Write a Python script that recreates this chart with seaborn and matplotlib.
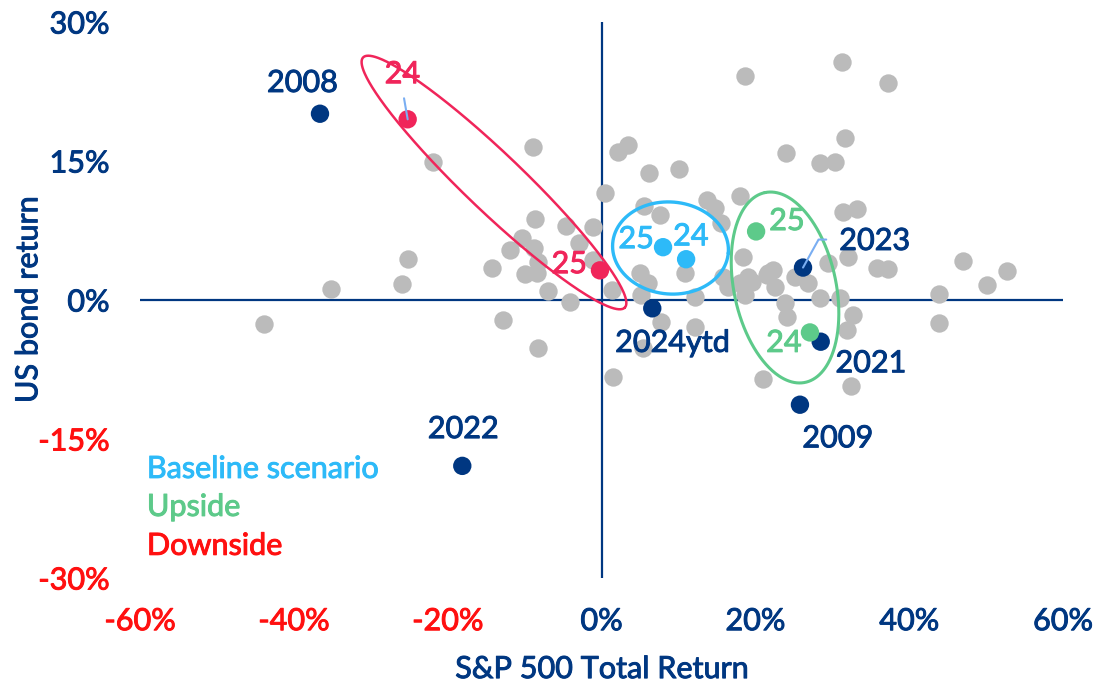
import matplotlib
matplotlib.use("Agg")
import matplotlib.pyplot as plt
import matplotlib.patheffects as pe
import seaborn as sns
import numpy as np
import pandas as pd

# ---------------- data ----------------
# Historical annual returns (grey dots): S&P 500 total return (%), US bond return (%)
hist_x = [-43.9, -35.2, -25.9, -25.2, -21.9, -14.2, -12.8, -8.3, -8.9, -8.6,
          -4.6, -1.1, -10.3, -2.9, -11.9, -8.8, -8.3, -9.9, -8.4, -1.1,
          -7.0, -4.1, 0.5, 1.4, 1.5, 2.1, 3.4, 6.2, 10.1, 5.5,
          7.6, 5.0, 6.0, 5.1, 7.7, 12.2, 5.4, 10.9, 12.2, 13.7,
          14.8, 15.6, 18.0, 15.8, 16.4, 18.4, 19.1, 19.6, 18.0, 18.7,
          21.7, 22.3, 21.5, 22.6, 23.9, 24.1, 25.2, 26.9, 28.4, 31.0,
          32.7, 31.9, 21.0, 32.4, 29.5, 32.1, 35.8, 37.3, 18.7, 31.3,
          37.3, 31.7, 24.0, 28.4, 30.4, 31.4, 33.2, 47.0, 50.1, 52.7,
          43.9, 43.9]
hist_y = [-2.6, 1.2, 1.7, 4.4, 14.9, 3.5, -2.2, -5.2, 16.5, 8.7,
          8.0, 7.9, 6.7, 6.1, 5.4, 5.6, 4.1, 2.8, 2.9, 4.3,
          1.0, -0.2, 11.5, 1.1, -8.3, 16.0, 16.7, 13.7, 14.1, 10.1,
          9.2, 2.9, 1.8, 0.5, -2.4, -2.9, -5.2, 2.9, 0.3, 10.8,
          9.9, 8.3, 11.2, 2.5, 1.4, 4.6, 2.5, 1.9, 1.8, 0.5,
          2.9, 3.2, 2.7, 1.4, -0.3, -1.8, 2.5, 1.8, 0.2, 0.2,
          -1.6, -3.2, -8.5, -9.3, 4.0, 4.6, 3.5, 3.3, 24.2, 25.7,
          23.4, 17.5, 15.9, 14.8, 14.9, 9.5, 9.8, 4.2, 1.6, 3.1,
          0.6, -2.5]

# Highlighted years (navy dots)
year_labels = ["2008", "2009", "2021", "2022", "2023", "2024ytd"]
year_x = [-36.6, 25.8, 28.5, -18.1, 26.2, 6.6]
year_y = [20.1, -11.3, -4.5, -17.9, 3.5, -0.9]

# Scenario forecasts: first value = 2024, second = 2025
scen_years = ["24", "25"]
base_x = [11.0, 8.0]
base_y = [4.4, 5.7]
up_x = [27.1, 20.1]
up_y = [-3.5, 7.4]
down_x = [-25.2, -0.2]
down_y = [19.5, 3.2]

scenario_names = ["Baseline scenario", "Upside", "Downside"]

x_ticks = [-60, -40, -20, 0, 20, 40, 60]
y_ticks = [-30, -15, 0, 15, 30]

# ---------------- style ----------------
NAVY = "#003781"
GREY = "#BBBBBB"
LBLUE = "#2DBAF8"
GREEN = "#5DCA8A"
PINK = "#F0255A"
RED = "#FF1010"
CONN = "#7AAEF2"

sns.set_theme(style="white")
plt.rcParams["font.family"] = ["Lato", "DejaVu Sans"]

FS = 22


def thick(color):
    return [pe.withStroke(linewidth=0.7, foreground=color)]


fig = plt.figure(figsize=(10.97, 6.82), dpi=100)
ax = fig.add_axes([0.12762, 0.15249, 0.84139, 0.81525])
ax.set_xlim(-60, 60)
ax.set_ylim(-30, 30)

for s in ax.spines.values():
    s.set_visible(False)

ax.axhline(0, color=NAVY, lw=1.6, zorder=1)
ax.axvline(0, color=NAVY, lw=1.6, zorder=1)

# grey history
sns.scatterplot(x=hist_x, y=hist_y, color=GREY, s=175, linewidth=0, ax=ax, zorder=2, legend=False)

# ellipse helper (semi-axes given in pixels so the outline looks like the reference)
fig.canvas.draw()
bb = ax.get_window_extent()
sx = bb.width / 120.0
sy = bb.height / 60.0


def draw_ellipse(cx, cy, a_px, b_px, ang_deg, color, lw):
    t = np.linspace(0, 2 * np.pi, 400)
    th = np.deg2rad(ang_deg)
    u = a_px * np.cos(t)
    v = b_px * np.sin(t)
    px = u * np.cos(th) - v * np.sin(th)
    py = u * np.sin(th) + v * np.cos(th)
    ax.plot(cx + px / sx, cy + py / sy, color=color, lw=lw, zorder=3)


draw_ellipse(-13.98, 12.68, 181, 29, -43.7, PINK, 1.8)
draw_ellipse(8.97, 5.61, 58, 46, -5, LBLUE, 2.4)
draw_ellipse(23.86, 1.35, 97, 51, 102, GREEN, 2.2)

# highlighted points
pts = pd.DataFrame({
    "x": year_x + base_x + up_x + down_x,
    "y": year_y + base_y + up_y + down_y,
    "grp": ["year"] * len(year_x) + ["base"] * 2 + ["up"] * 2 + ["down"] * 2,
})
sns.scatterplot(data=pts, x="x", y="y", hue="grp",
                palette={"year": NAVY, "base": LBLUE, "up": GREEN, "down": PINK},
                s=175, linewidth=0, ax=ax, zorder=4, legend=False)

# year labels
lab_pos = {
    "2008": (-38.9, 22.45),
    "2009": (30.7, -15.9),
    "2021": (35.0, -7.8),
    "2022": (-18.0, -14.9),
    "2024ytd": (9.2, -5.6),
}
for lab in lab_pos:
    ax.text(*lab_pos[lab], lab, color=NAVY, fontsize=FS, ha="center", va="baseline",
            zorder=5, path_effects=thick(NAVY))

i23 = year_labels.index("2023")
ax.annotate("2023", xy=(year_x[i23], year_y[i23]), xytext=(35.5, 5.4),
            color=NAVY, fontsize=FS, ha="center", va="baseline", zorder=5,
            path_effects=thick(NAVY),
            arrowprops=dict(arrowstyle="-", color=CONN, lw=1.5, relpos=(0, 0.55),
                            connectionstyle="angle,angleA=0,angleB=61,rad=0",
                            shrinkA=7, shrinkB=0))

# scenario labels
ax.annotate(scen_years[0], xy=(down_x[0], down_y[0]), xytext=(-25.9, 23.4),
            color=PINK, fontsize=FS, ha="center", va="baseline", zorder=5,
            path_effects=thick(PINK),
            arrowprops=dict(arrowstyle="-", color=CONN, lw=1.5, relpos=(0.5, 0),
                            shrinkA=5, shrinkB=0))
ax.text(-4.2, 2.9, scen_years[1], color=PINK, fontsize=FS, ha="center", va="baseline", zorder=5,
        path_effects=thick(PINK))
ax.text(4.5, 5.6, scen_years[1], color=LBLUE, fontsize=FS, ha="center", va="baseline", zorder=5,
        path_effects=thick(LBLUE))
ax.text(11.6, 5.9, scen_years[0], color=LBLUE, fontsize=FS, ha="center", va="baseline", zorder=5,
        path_effects=thick(LBLUE))
ax.text(24.1, 7.55, scen_years[1], color=GREEN, fontsize=FS, ha="center", va="baseline", zorder=5,
        path_effects=thick(GREEN))
ax.text(23.7, -5.6, scen_years[0], color=GREEN, fontsize=FS, ha="center", va="baseline", zorder=5,
        path_effects=thick(GREEN))

# legend-like text
for name, col, yy in zip(scenario_names, [LBLUE, GREEN, RED], [-19.2, -23.3, -27.5]):
    ax.text(-59.1, yy, name, color=col, fontsize=FS, ha="left", va="baseline", zorder=5,
            path_effects=thick(col))

# ticks
ax.set_xticks(x_ticks)
ax.set_xticklabels([f"{v}%" for v in x_ticks])
ax.set_yticks(y_ticks)
ax.set_yticklabels([f"{v}%" for v in y_ticks])
ax.tick_params(axis="x", length=0, pad=21, labelsize=FS)
ax.tick_params(axis="y", length=0, pad=22, labelsize=FS)
for lbl, v in zip(ax.get_xticklabels(), x_ticks):
    c = RED if v < 0 else NAVY
    lbl.set_color(c)
    lbl.set_path_effects(thick(c))
for lbl, v in zip(ax.get_yticklabels(), y_ticks):
    c = RED if v < 0 else NAVY
    lbl.set_color(c)
    lbl.set_path_effects(thick(c))

ax.set_xlabel("S&P 500 Total Return", color=NAVY, fontsize=FS, va="baseline",
              path_effects=thick(NAVY))
ax.xaxis.set_label_coords(0.5, -0.18)
ax.set_ylabel("US bond return", color=NAVY, fontsize=FS, va="center",
              path_effects=thick(NAVY))
ax.yaxis.set_label_coords(-0.121, 0.5)
ax.grid(False)

fig.savefig("out.png", dpi=100)
